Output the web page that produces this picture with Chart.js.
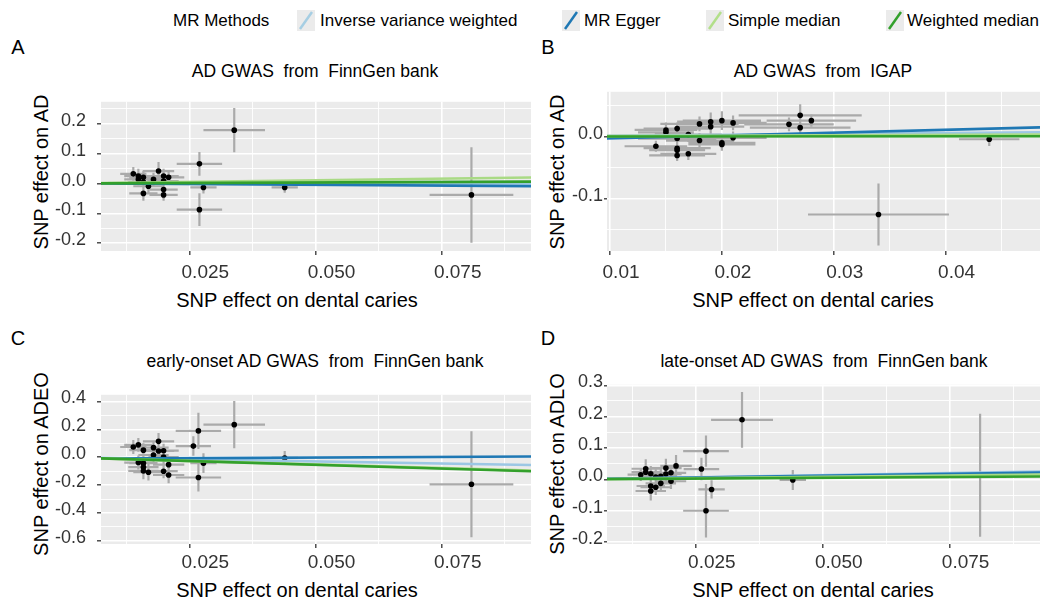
<!DOCTYPE html>
<html>
<head>
<meta charset="utf-8">
<script src="https://cdn.jsdelivr.net/npm/chart.js@4"></script>
<style>
  body { margin: 0; background: #fff; font-family: 'Liberation Sans', Arial, sans-serif; }
  #page { position: relative; width: 1052px; height: 603px; overflow: hidden; }
  canvas { position: absolute; }
  .t { position: absolute; white-space: pre; transform: translate(-50%, -50%); color: #000; line-height: 1; }
  .yt { transform: translate(-50%, -50%) rotate(-90deg); }
  .leg { position: absolute; top: 20px; transform: translateY(-50%); font-size: 17px; line-height: 1; white-space: pre; color: #000; }
  .key { position: absolute; top: 10px; }
</style>
</head>
<body>
<div id="page">
  <div class="leg" style="left:173px">MR Methods</div>
  <svg class="key" style="left:297px" width="18" height="21"><rect width="18" height="21" fill="#ebebeb"/><line x1="3" y1="19" x2="15" y2="2" stroke="#a6cee3" stroke-width="2.5"/></svg>
  <div class="leg" style="left:320px">Inverse variance weighted</div>
  <svg class="key" style="left:562px" width="18" height="21"><rect width="18" height="21" fill="#ebebeb"/><line x1="3" y1="19" x2="15" y2="2" stroke="#1f78b4" stroke-width="2.5"/></svg>
  <div class="leg" style="left:584px">MR Egger</div>
  <svg class="key" style="left:706px" width="18" height="21"><rect width="18" height="21" fill="#ebebeb"/><line x1="3" y1="19" x2="15" y2="2" stroke="#b2df8a" stroke-width="2.5"/></svg>
  <div class="leg" style="left:728px">Simple median</div>
  <svg class="key" style="left:886px" width="18" height="21"><rect width="18" height="21" fill="#ebebeb"/><line x1="3" y1="19" x2="15" y2="2" stroke="#33a02c" stroke-width="2.5"/></svg>
  <div class="leg" style="left:907px">Weighted median</div>

  <div class="t" style="left:18px;top:47px;font-size:20px">A</div>
  <div class="t" style="left:548px;top:47px;font-size:20px">B</div>
  <div class="t" style="left:18px;top:338px;font-size:20px">C</div>
  <div class="t" style="left:548px;top:338px;font-size:20px">D</div>

  <div class="t" style="left:315px;top:72px;font-size:17.5px">AD GWAS  from  FinnGen bank</div>
  <div class="t" style="left:823px;top:72px;font-size:17.5px">AD GWAS  from  IGAP</div>
  <div class="t" style="left:315px;top:362px;font-size:17.5px">early-onset AD GWAS  from  FinnGen bank</div>
  <div class="t" style="left:824px;top:362px;font-size:17.5px">late-onset AD GWAS  from  FinnGen bank</div>

  <div class="t yt" style="left:41px;top:172px;font-size:20px">SNP effect on AD</div>
  <div class="t yt" style="left:557px;top:172px;font-size:20px">SNP effect on AD</div>
  <div class="t yt" style="left:41px;top:464px;font-size:20px">SNP effect on ADEO</div>
  <div class="t yt" style="left:557px;top:464px;font-size:20px">SNP effect on ADLO</div>

  <div class="t" style="left:297px;top:300px;font-size:20px">SNP effect on dental caries</div>
  <div class="t" style="left:813px;top:300px;font-size:20px">SNP effect on dental caries</div>
  <div class="t" style="left:297px;top:590px;font-size:20px">SNP effect on dental caries</div>
  <div class="t" style="left:813px;top:590px;font-size:20px">SNP effect on dental caries</div>

  <canvas id="chartA" width="540" height="205" style="left:0;top:80px"></canvas>
  <canvas id="chartB" width="537" height="205" style="left:515px;top:80px"></canvas>
  <canvas id="chartC" width="540" height="200" style="left:0;top:373px"></canvas>
  <canvas id="chartD" width="537" height="200" style="left:515px;top:373px"></canvas>
</div>

<script>
const methods = ['Inverse variance weighted', 'MR Egger', 'Simple median', 'Weighted median'];
const methodColors = ['#9cc7e4', '#1f78b4', '#a9da84', '#33a02c'];

// A: AD GWAS from FinnGen bank
const aX = [0.0139, 0.0149, 0.0149, 0.0159, 0.0159, 0.0169, 0.0159, 0.0179, 0.0189, 0.0199, 0.0199, 0.0209, 0.0199, 0.0199, 0.0270, 0.0278, 0.0270, 0.0339, 0.0439, 0.0809];
const aY = [0.0325, 0.025, 0.014, 0.021, 0.005, -0.009, -0.033, 0.014, 0.042, 0.025, 0.008, 0.021, -0.020, -0.038, 0.066, -0.013, -0.0875, 0.179, -0.013, -0.038];
const aSeX = [0.0026, 0.0028, 0.0028, 0.0028, 0.0030, 0.0030, 0.0028, 0.0030, 0.0031, 0.0030, 0.0030, 0.0031, 0.0028, 0.0028, 0.0045, 0.0026, 0.0045, 0.0061, 0.0026, 0.0083];
const aSeY = [0.023, 0.025, 0.020, 0.022, 0.020, 0.025, 0.025, 0.022, 0.030, 0.025, 0.022, 0.022, 0.022, 0.020, 0.040, 0.020, 0.055, 0.074, 0.018, 0.160];
const aSlope = [0.0, -0.1, 0.22, 0.07];
const aIntercept = [0, 0.0008, 0, 0];
const aXTicks = [0.025, 0.05, 0.075];
const aYTicks = [-0.2, -0.1, 0, 0.1, 0.2];

// B: AD GWAS from IGAP
const bX = [0.0141, 0.0150, 0.0150, 0.0160, 0.0160, 0.0160, 0.0160, 0.0160, 0.0170, 0.0170, 0.0180, 0.0180, 0.0190, 0.0190, 0.0200, 0.0200, 0.0200, 0.0210, 0.0210, 0.0260, 0.0270, 0.0270, 0.0280, 0.0439, 0.0340];
const bY = [-0.0156, 0.0107, 0.0069, 0.0128, -0.0032, -0.0188, -0.0220, -0.0305, 0.0032, -0.0278, 0.0204, -0.0064, 0.0240, 0.0160, 0.0257, -0.0101, -0.0128, 0.0220, -0.0020, 0.0197, 0.0342, 0.0144, 0.0257, -0.0043, -0.1257];
const bSeX = [0.0028, 0.0028, 0.0025, 0.0030, 0.0035, 0.0030, 0.0025, 0.0025, 0.0030, 0.0025, 0.0035, 0.0030, 0.0030, 0.0030, 0.0035, 0.0030, 0.0030, 0.0030, 0.0030, 0.0040, 0.0055, 0.0045, 0.0040, 0.0027, 0.0063];
const bSeY = [0.009, 0.012, 0.010, 0.010, 0.012, 0.010, 0.010, 0.009, 0.012, 0.010, 0.012, 0.012, 0.015, 0.012, 0.015, 0.010, 0.010, 0.012, 0.010, 0.011, 0.018, 0.014, 0.010, 0.011, 0.050];
const bSlope = [0.145, 0.46, 0.066, 0.01];
const bIntercept = [0, -0.0075, 0, 0];
const bXTicks = [0.01, 0.02, 0.03, 0.04];
const bYTicks = [-0.1, 0];

// C: early-onset AD GWAS from FinnGen bank
const cX = [0.0139, 0.0149, 0.0149, 0.0159, 0.0159, 0.0159, 0.0159, 0.0169, 0.0179, 0.0179, 0.0189, 0.0189, 0.0199, 0.0199, 0.0199, 0.0209, 0.0209, 0.0268, 0.0258, 0.0268, 0.0278, 0.0339, 0.0439, 0.0809];
const cY = [0.0735, 0.089, -0.038, 0.051, -0.042, -0.071, -0.098, -0.107, 0.069, 0.016, 0.114, 0.045, 0.047, 0.002, -0.100, -0.053, -0.127, 0.189, 0.080, -0.145, -0.042, 0.234, -0.005, -0.194];
const cSeX = [0.0026, 0.0028, 0.0028, 0.0028, 0.0028, 0.0030, 0.0030, 0.0030, 0.0030, 0.0030, 0.0031, 0.0031, 0.0030, 0.0030, 0.0028, 0.0031, 0.0031, 0.0045, 0.0035, 0.0045, 0.0026, 0.0061, 0.0026, 0.0083];
const cSeY = [0.05, 0.05, 0.05, 0.05, 0.05, 0.06, 0.06, 0.06, 0.05, 0.05, 0.06, 0.05, 0.05, 0.05, 0.05, 0.06, 0.06, 0.13, 0.07, 0.10, 0.07, 0.17, 0.05, 0.38];
const cSlope = [-0.6, 0.18, -1.03, -1.08];
const cIntercept = [0, -0.0113, 0, 0];
const cXTicks = [0.025, 0.05, 0.075];
const cYTicks = [-0.6, -0.4, -0.2, 0, 0.2, 0.4];

// D: late-onset AD GWAS from FinnGen bank
const dX = [0.01415, 0.01513, 0.01513, 0.01612, 0.01612, 0.01612, 0.0171, 0.0171, 0.0181, 0.0181, 0.0191, 0.0191, 0.0201, 0.0201, 0.0211, 0.0261, 0.0270, 0.0281, 0.0270, 0.0341, 0.0441, 0.0810];
const dY = [0.015, 0.034, 0.023, 0.018, -0.021, -0.037, 0.0074, -0.025, 0.0095, -0.0127, 0.036, 0.017, 0.021, -0.006, 0.043, 0.033, 0.090, -0.032, -0.100, 0.190, -0.002, 0.013];
const dSeX = [0.0026, 0.0028, 0.0028, 0.0028, 0.0028, 0.0030, 0.0030, 0.0030, 0.0030, 0.0030, 0.0031, 0.0031, 0.0030, 0.0030, 0.0031, 0.0035, 0.0045, 0.0026, 0.0045, 0.0061, 0.0026, 0];
const dSeY = [0.020, 0.030, 0.025, 0.025, 0.025, 0.030, 0.025, 0.025, 0.025, 0.025, 0.030, 0.025, 0.025, 0.025, 0.035, 0.036, 0.050, 0.029, 0.085, 0.089, 0.032, 0.196];
const dSlope = [0.27, 0.23, 0.17, 0.1];
const dIntercept = [0, 0.0005, 0, 0];
const dXTicks = [0.025, 0.05, 0.075];
const dYTicks = [-0.2, -0.1, 0, 0.1, 0.2, 0.3];

Chart.defaults.font.family = "'Liberation Sans', Arial, sans-serif";

const panelBg = {
  id: 'panelBg',
  beforeDraw(chart) {
    const a = chart.chartArea;
    const ctx = chart.ctx;
    ctx.save();
    ctx.fillStyle = '#ebebeb';
    ctx.fillRect(a.left, a.top, a.right - a.left, a.bottom - a.top);
    ctx.restore();
  }
};

// major ticks from the list, minor ones half way between (ggplot style)
function buildTicks(major, lo, hi) {
  const half = (major[1] - major[0]) / 2;
  const out = [];
  for (let k = Math.ceil(lo / half - 1e-9); k <= Math.floor(hi / half + 1e-9); k++) {
    const v = +(k * half).toFixed(6);
    out.push({ value: v, isMajor: major.some(m => Math.abs(m - v) < half / 10) });
  }
  return out;
}

function axis(ticks, range, dec, opts) {
  return {
    type: 'linear',
    min: range[0],
    max: range[1],
    afterBuildTicks: s => { s.ticks = buildTicks(ticks, range[0], range[1]); },
    afterFit: s => { if (opts.width) s.width = opts.width; if (opts.height) s.height = opts.height; },
    border: { display: false },
    grid: {
      color: '#ffffff',
      lineWidth: c => (c.tick && c.tick.isMajor ? 1.6 : 0.9),
      tickLength: opts.tickLength,
      tickWidth: 1.3,
      tickColor: c => (c.tick && c.tick.isMajor ? '#333333' : 'rgba(0,0,0,0)')
    },
    ticks: {
      autoSkip: false,
      maxRotation: 0,
      padding: opts.pad,
      labelOffset: opts.offset,
      color: '#333333',
      font: { size: opts.size },
      callback: (v, i, t) => (t[i].isMajor ? v.toFixed(dec) : '')
    }
  };
}

function makePanel(id, p) {
  const pts = [], errX = [], errY = [];
  p.x.forEach((x, i) => {
    const y = p.y[i];
    pts.push({ x: x, y: y });
    if (p.seX[i] > 0) errX.push({ x: x - p.seX[i], y: y }, { x: x + p.seX[i], y: y }, { x: x, y: null });
    errY.push({ x: x, y: y - p.seY[i] }, { x: x, y: y + p.seY[i] }, { x: x, y: null });
  });

  const lo = p.xRange[0], hi = p.xRange[1];
  const lines = methods.map((m, k) => ({
    label: m,
    data: [{ x: lo, y: p.b0[k] + p.b1[k] * lo }, { x: hi, y: p.b0[k] + p.b1[k] * hi }],
    showLine: true,
    borderColor: methodColors[k],
    borderWidth: 2.6,
    pointRadius: 0,
    order: 4 - k
  }));

  new Chart(document.getElementById(id), {
    type: 'scatter',
    data: {
      datasets: lines.concat([
        { label: 'points', data: pts, pointRadius: 2.8, pointBackgroundColor: '#000', pointBorderWidth: 0, order: 5 },
        { label: 'errX', data: errX, showLine: true, spanGaps: false, borderColor: '#aaaaaa', borderWidth: 2.2, pointRadius: 0, order: 6 },
        { label: 'errY', data: errY, showLine: true, spanGaps: false, borderColor: '#aaaaaa', borderWidth: 2.2, pointRadius: 0, order: 7 }
      ])
    },
    options: {
      responsive: false,
      animation: false,
      layout: { padding: { top: p.padTop, right: p.padRight, left: 0, bottom: 0 } },
      plugins: { legend: { display: false }, tooltip: { enabled: false } },
      scales: {
        x: axis(p.xTicks, p.xRange, p.xDec, { height: p.xAxisH, tickLength: 4, pad: p.xPad, offset: p.xOffset, size: 19 }),
        y: axis(p.yTicks, p.yRange, 1, { width: p.yAxisW, tickLength: p.yTickLen, pad: p.yPad, offset: -3, size: 18 })
      }
    },
    plugins: [panelBg]
  });
}

makePanel('chartA', {
  x: aX, y: aY, seX: aSeX, seY: aSeY, b1: aSlope, b0: aIntercept,
  xTicks: aXTicks, yTicks: aYTicks, xRange: [0.0075, 0.0927], yRange: [-0.226, 0.274], xDec: 3,
  padTop: 11, padRight: 9, yAxisW: 101, xAxisH: 34, xPad: 6, xOffset: 16, yPad: 11, yTickLen: 4
});
makePanel('chartB', {
  x: bX, y: bY, seX: bSeX, seY: bSeY, b1: bSlope, b0: bIntercept,
  xTicks: bXTicks, yTicks: bYTicks, xRange: [0.00973, 0.04844], yRange: [-0.1846, 0.0722], xDec: 2,
  padTop: 11, padRight: 12, yAxisW: 92, xAxisH: 34, xPad: 6, xOffset: 11, yPad: 1, yTickLen: 3
});
makePanel('chartC', {
  x: cX, y: cY, seX: cSeX, seY: cSeY, b1: cSlope, b0: cIntercept,
  xTicks: cXTicks, yTicks: cYTicks, xRange: [0.0075, 0.0927], yRange: [-0.622, 0.448], xDec: 3,
  padTop: 11, padRight: 9, yAxisW: 101, xAxisH: 29, xPad: 3, xOffset: 16, yPad: 11, yTickLen: 4
});
makePanel('chartD', {
  x: dX, y: dY, seX: dSeX, seY: dSeY, b1: dSlope, b0: dIntercept,
  xTicks: dXTicks, yTicks: dYTicks, xRange: [0.0075, 0.0928], yRange: [-0.206, 0.3016], xDec: 3,
  padTop: 11, padRight: 12, yAxisW: 92, xAxisH: 29, xPad: 3, xOffset: 16, yPad: 1, yTickLen: 3
});
</script>
</body>
</html>
